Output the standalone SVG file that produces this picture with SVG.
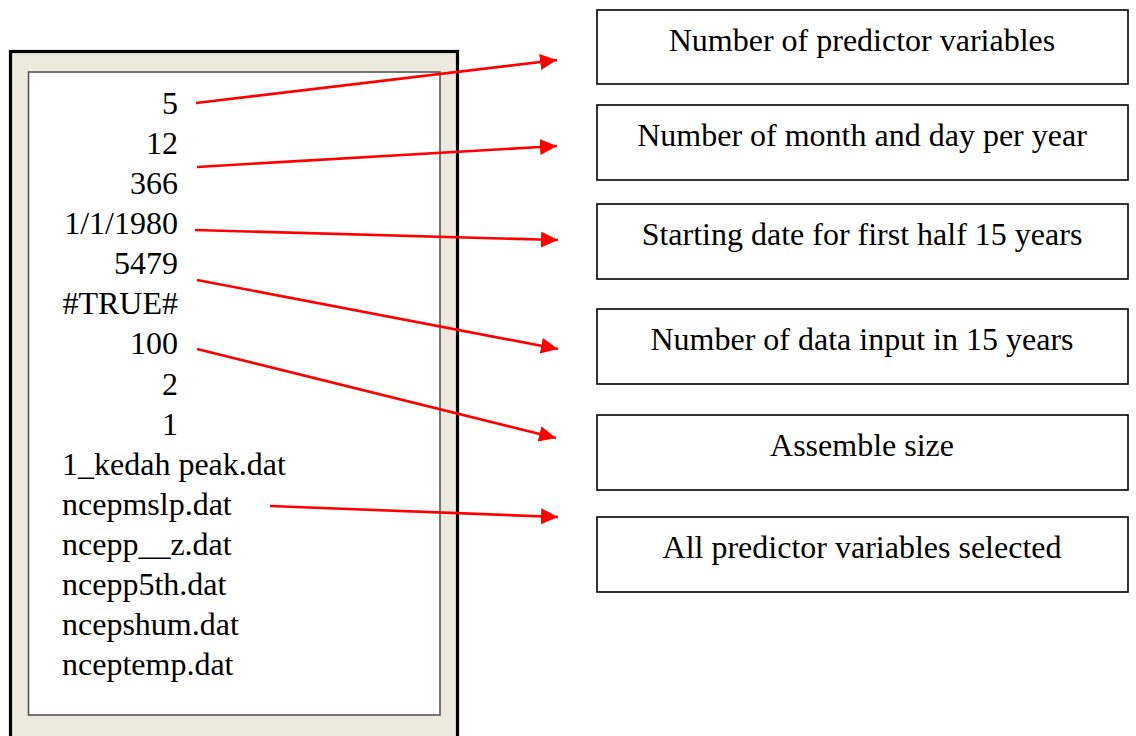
<svg xmlns="http://www.w3.org/2000/svg" width="1136" height="736" viewBox="0 0 1136 736">
  <style>
    .txt { font-family: "Liberation Serif", "Times New Roman", serif; font-size: 32px; fill: #000; }
    .r { text-anchor: end; }
    .c { text-anchor: middle; }
    .box { fill: #fff; stroke: #000; stroke-width: 1.6; }
    .link { stroke: #ff0000; stroke-width: 2.6; fill: none; marker-end: url(#head); }
  </style>
  <defs>
    <marker id="head" markerUnits="userSpaceOnUse" markerWidth="18" markerHeight="16" refX="17" refY="8" orient="auto">
      <path d="M0,0 L17,8 L0,16 Z" fill="#ff0000"/>
    </marker>
  </defs>
  <rect width="1136" height="736" fill="#fff"/>

  <!-- parameter file window -->
  <g id="param-file">
    <rect x="10.5" y="51.5" width="447" height="700" fill="#ECE9DF" stroke="#000" stroke-width="3.2"/>
    <rect x="28.5" y="72" width="411.5" height="643" fill="#fff" stroke="#555" stroke-width="1.6"/>
    <text class="txt r" x="178" y="114">5</text>
    <text class="txt r" x="178" y="154">12</text>
    <text class="txt r" x="178" y="194">366</text>
    <text class="txt r" x="178" y="234">1/1/1980</text>
    <text class="txt r" x="178" y="274">5479</text>
    <text class="txt r" x="178" y="314">#TRUE#</text>
    <text class="txt r" x="178" y="354">100</text>
    <text class="txt r" x="178" y="395">2</text>
    <text class="txt r" x="178" y="435">1</text>
    <text class="txt" x="62" y="475">1_kedah peak.dat</text>
    <text class="txt" x="62" y="515">ncepmslp.dat</text>
    <text class="txt" x="62" y="555">ncepp__z.dat</text>
    <text class="txt" x="62" y="595">ncepp5th.dat</text>
    <text class="txt" x="62" y="635">ncepshum.dat</text>
    <text class="txt" x="62" y="675">nceptemp.dat</text>
  </g>

  <!-- description boxes -->
  <g id="desc-predictors">
    <rect class="box" x="597" y="10" width="531" height="74"/>
    <text class="txt c" x="862" y="51">Number of predictor variables</text>
  </g>
  <g id="desc-month-day">
    <rect class="box" x="597" y="105" width="531" height="75"/>
    <text class="txt c" x="862" y="146">Number of month and day per year</text>
  </g>
  <g id="desc-start-date">
    <rect class="box" x="597" y="204" width="531" height="75"/>
    <text class="txt c" x="862" y="245">Starting date for first half 15 years</text>
  </g>
  <g id="desc-data-count">
    <rect class="box" x="597" y="309" width="531" height="75"/>
    <text class="txt c" x="862" y="350">Number of data input in 15 years</text>
  </g>
  <g id="desc-ensemble">
    <rect class="box" x="597" y="415" width="531" height="75"/>
    <text class="txt c" x="862" y="456">Assemble size</text>
  </g>
  <g id="desc-selected">
    <rect class="box" x="597" y="517" width="531" height="75"/>
    <text class="txt c" x="862" y="558">All predictor variables selected</text>
  </g>

  <!-- connectors -->
  <g id="connectors">
    <line class="link" x1="196" y1="103" x2="557" y2="60"/>
    <line class="link" x1="197" y1="167" x2="557" y2="146"/>
    <line class="link" x1="195" y1="230" x2="558" y2="240"/>
    <line class="link" x1="197" y1="280" x2="558" y2="349"/>
    <line class="link" x1="197" y1="349" x2="556" y2="438"/>
    <line class="link" x1="270" y1="506" x2="558" y2="517"/>
  </g>
</svg>
